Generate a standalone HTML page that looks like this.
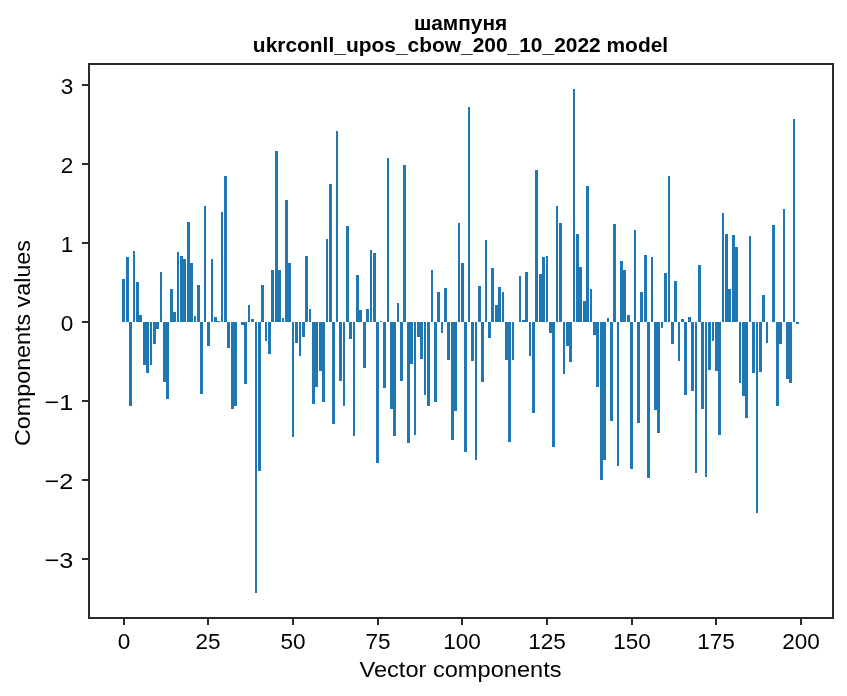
<!DOCTYPE html>
<html><head><meta charset="utf-8"><title>шампуня ukrconll_upos_cbow_200_10_2022 model</title>
<style>html,body{margin:0;padding:0;background:#fff;}svg{display:block;will-change:transform;}text{font-family:"Liberation Sans", sans-serif;fill:#000;}</style>
</head><body>
<svg width="847" height="696" viewBox="0 0 847 696">
<rect x="0" y="0" width="847" height="696" fill="#fff"/>
<g fill="#1f77b4" shape-rendering="crispEdges">
<rect x="122" y="279" width="3" height="43"/>
<rect x="126" y="257" width="3" height="65"/>
<rect x="129" y="322" width="3" height="84"/>
<rect x="133" y="251" width="2" height="71"/>
<rect x="136" y="282" width="3" height="40"/>
<rect x="139" y="315" width="3" height="7"/>
<rect x="143" y="322" width="3" height="43"/>
<rect x="146" y="322" width="3" height="51"/>
<rect x="150" y="322" width="2" height="43"/>
<rect x="153" y="322" width="3" height="22"/>
<rect x="156" y="322" width="3" height="7"/>
<rect x="160" y="272" width="2" height="50"/>
<rect x="163" y="322" width="3" height="60"/>
<rect x="166" y="322" width="3" height="77"/>
<rect x="170" y="289" width="3" height="33"/>
<rect x="173" y="312" width="3" height="10"/>
<rect x="177" y="252" width="2" height="70"/>
<rect x="180" y="256" width="3" height="66"/>
<rect x="183" y="259" width="3" height="63"/>
<rect x="187" y="222" width="3" height="100"/>
<rect x="190" y="263" width="3" height="59"/>
<rect x="194" y="316" width="2" height="6"/>
<rect x="197" y="285" width="3" height="37"/>
<rect x="200" y="322" width="3" height="72"/>
<rect x="204" y="206" width="2" height="116"/>
<rect x="207" y="322" width="3" height="24"/>
<rect x="211" y="259" width="2" height="63"/>
<rect x="214" y="317" width="3" height="5"/>
<rect x="217" y="321" width="3" height="1"/>
<rect x="221" y="212" width="2" height="110"/>
<rect x="224" y="176" width="3" height="146"/>
<rect x="227" y="322" width="3" height="26"/>
<rect x="231" y="322" width="3" height="87"/>
<rect x="234" y="322" width="3" height="84"/>
<rect x="241" y="322" width="3" height="3"/>
<rect x="244" y="322" width="3" height="62"/>
<rect x="248" y="305" width="2" height="17"/>
<rect x="251" y="319" width="3" height="3"/>
<rect x="255" y="322" width="2" height="271"/>
<rect x="258" y="322" width="3" height="149"/>
<rect x="261" y="285" width="3" height="37"/>
<rect x="265" y="322" width="2" height="19"/>
<rect x="268" y="322" width="3" height="32"/>
<rect x="271" y="270" width="3" height="52"/>
<rect x="275" y="151" width="3" height="171"/>
<rect x="278" y="270" width="3" height="52"/>
<rect x="282" y="318" width="2" height="4"/>
<rect x="285" y="200" width="3" height="122"/>
<rect x="288" y="263" width="3" height="59"/>
<rect x="292" y="322" width="2" height="115"/>
<rect x="295" y="322" width="3" height="21"/>
<rect x="299" y="322" width="2" height="34"/>
<rect x="302" y="322" width="3" height="15"/>
<rect x="305" y="256" width="3" height="66"/>
<rect x="309" y="309" width="2" height="13"/>
<rect x="312" y="322" width="3" height="82"/>
<rect x="315" y="322" width="3" height="65"/>
<rect x="319" y="322" width="3" height="49"/>
<rect x="322" y="322" width="3" height="80"/>
<rect x="326" y="239" width="2" height="83"/>
<rect x="329" y="184" width="3" height="138"/>
<rect x="332" y="322" width="3" height="102"/>
<rect x="336" y="131" width="2" height="191"/>
<rect x="339" y="322" width="3" height="59"/>
<rect x="343" y="322" width="2" height="84"/>
<rect x="346" y="226" width="3" height="96"/>
<rect x="349" y="322" width="3" height="17"/>
<rect x="353" y="322" width="2" height="114"/>
<rect x="356" y="275" width="3" height="47"/>
<rect x="359" y="310" width="3" height="12"/>
<rect x="363" y="322" width="3" height="46"/>
<rect x="366" y="309" width="3" height="13"/>
<rect x="370" y="250" width="2" height="72"/>
<rect x="373" y="253" width="3" height="69"/>
<rect x="376" y="322" width="3" height="141"/>
<rect x="380" y="321" width="2" height="1"/>
<rect x="383" y="322" width="3" height="66"/>
<rect x="387" y="158" width="2" height="164"/>
<rect x="390" y="322" width="3" height="87"/>
<rect x="393" y="322" width="3" height="114"/>
<rect x="397" y="303" width="2" height="19"/>
<rect x="400" y="322" width="3" height="59"/>
<rect x="403" y="165" width="3" height="157"/>
<rect x="407" y="322" width="3" height="121"/>
<rect x="410" y="322" width="3" height="42"/>
<rect x="414" y="322" width="2" height="113"/>
<rect x="417" y="322" width="3" height="15"/>
<rect x="420" y="322" width="3" height="37"/>
<rect x="424" y="322" width="2" height="73"/>
<rect x="427" y="322" width="3" height="84"/>
<rect x="431" y="270" width="2" height="52"/>
<rect x="434" y="322" width="3" height="80"/>
<rect x="437" y="292" width="3" height="30"/>
<rect x="441" y="322" width="2" height="11"/>
<rect x="444" y="288" width="3" height="34"/>
<rect x="447" y="322" width="3" height="38"/>
<rect x="451" y="322" width="3" height="118"/>
<rect x="454" y="322" width="3" height="89"/>
<rect x="458" y="223" width="2" height="99"/>
<rect x="461" y="263" width="3" height="59"/>
<rect x="464" y="322" width="3" height="130"/>
<rect x="468" y="107" width="2" height="215"/>
<rect x="471" y="322" width="3" height="39"/>
<rect x="475" y="322" width="2" height="138"/>
<rect x="478" y="286" width="3" height="36"/>
<rect x="481" y="322" width="3" height="60"/>
<rect x="485" y="240" width="2" height="82"/>
<rect x="488" y="322" width="3" height="16"/>
<rect x="491" y="268" width="3" height="54"/>
<rect x="495" y="305" width="3" height="17"/>
<rect x="498" y="287" width="3" height="35"/>
<rect x="502" y="292" width="2" height="30"/>
<rect x="505" y="322" width="3" height="38"/>
<rect x="508" y="322" width="3" height="120"/>
<rect x="512" y="322" width="2" height="38"/>
<rect x="519" y="276" width="2" height="46"/>
<rect x="522" y="320" width="3" height="2"/>
<rect x="525" y="272" width="3" height="50"/>
<rect x="529" y="322" width="2" height="34"/>
<rect x="532" y="322" width="3" height="91"/>
<rect x="535" y="170" width="3" height="152"/>
<rect x="539" y="274" width="3" height="48"/>
<rect x="542" y="257" width="3" height="65"/>
<rect x="546" y="256" width="2" height="66"/>
<rect x="549" y="322" width="3" height="11"/>
<rect x="552" y="322" width="3" height="125"/>
<rect x="556" y="206" width="2" height="116"/>
<rect x="559" y="223" width="3" height="99"/>
<rect x="563" y="322" width="2" height="52"/>
<rect x="566" y="322" width="3" height="24"/>
<rect x="569" y="322" width="3" height="40"/>
<rect x="573" y="89" width="2" height="233"/>
<rect x="576" y="234" width="3" height="88"/>
<rect x="579" y="267" width="3" height="55"/>
<rect x="583" y="301" width="3" height="21"/>
<rect x="586" y="186" width="3" height="136"/>
<rect x="590" y="289" width="2" height="33"/>
<rect x="593" y="322" width="3" height="13"/>
<rect x="596" y="322" width="3" height="65"/>
<rect x="600" y="322" width="3" height="158"/>
<rect x="603" y="322" width="3" height="138"/>
<rect x="607" y="318" width="2" height="4"/>
<rect x="610" y="322" width="3" height="99"/>
<rect x="613" y="224" width="3" height="98"/>
<rect x="617" y="322" width="2" height="144"/>
<rect x="620" y="261" width="3" height="61"/>
<rect x="623" y="270" width="3" height="52"/>
<rect x="627" y="315" width="3" height="7"/>
<rect x="630" y="322" width="3" height="147"/>
<rect x="634" y="230" width="2" height="92"/>
<rect x="637" y="322" width="3" height="101"/>
<rect x="640" y="292" width="3" height="30"/>
<rect x="644" y="255" width="3" height="67"/>
<rect x="647" y="322" width="3" height="156"/>
<rect x="651" y="257" width="2" height="65"/>
<rect x="654" y="322" width="3" height="88"/>
<rect x="657" y="322" width="3" height="111"/>
<rect x="661" y="322" width="2" height="6"/>
<rect x="664" y="273" width="3" height="49"/>
<rect x="668" y="176" width="2" height="146"/>
<rect x="671" y="322" width="3" height="22"/>
<rect x="674" y="281" width="3" height="41"/>
<rect x="678" y="322" width="2" height="39"/>
<rect x="681" y="319" width="3" height="3"/>
<rect x="684" y="322" width="3" height="73"/>
<rect x="688" y="317" width="3" height="5"/>
<rect x="691" y="322" width="3" height="69"/>
<rect x="695" y="322" width="2" height="151"/>
<rect x="698" y="265" width="3" height="57"/>
<rect x="701" y="322" width="3" height="87"/>
<rect x="705" y="322" width="2" height="155"/>
<rect x="708" y="322" width="3" height="48"/>
<rect x="712" y="322" width="2" height="19"/>
<rect x="715" y="322" width="3" height="49"/>
<rect x="718" y="322" width="3" height="113"/>
<rect x="722" y="213" width="2" height="109"/>
<rect x="725" y="234" width="3" height="88"/>
<rect x="728" y="289" width="3" height="33"/>
<rect x="732" y="235" width="3" height="87"/>
<rect x="735" y="247" width="3" height="75"/>
<rect x="739" y="322" width="2" height="61"/>
<rect x="742" y="322" width="3" height="74"/>
<rect x="745" y="322" width="3" height="96"/>
<rect x="749" y="236" width="2" height="86"/>
<rect x="752" y="322" width="3" height="51"/>
<rect x="756" y="322" width="2" height="191"/>
<rect x="759" y="322" width="3" height="50"/>
<rect x="762" y="295" width="3" height="27"/>
<rect x="766" y="322" width="2" height="21"/>
<rect x="772" y="225" width="3" height="97"/>
<rect x="776" y="322" width="3" height="84"/>
<rect x="779" y="322" width="3" height="22"/>
<rect x="783" y="209" width="2" height="113"/>
<rect x="786" y="322" width="3" height="57"/>
<rect x="789" y="322" width="3" height="61"/>
<rect x="793" y="119" width="2" height="203"/>
<rect x="796" y="322" width="3" height="2"/>
</g>
<g fill="#2a2a2a" shape-rendering="crispEdges">
<rect x="88" y="63" width="2" height="556"/>
<rect x="832" y="63" width="2" height="556"/>
<rect x="90" y="63" width="742" height="2"/>
<rect x="90" y="617" width="742" height="2"/>
<rect x="123" y="619" width="2" height="6"/>
<rect x="207" y="619" width="2" height="6"/>
<rect x="292" y="619" width="2" height="6"/>
<rect x="377" y="619" width="2" height="6"/>
<rect x="461" y="619" width="2" height="6"/>
<rect x="546" y="619" width="2" height="6"/>
<rect x="631" y="619" width="2" height="6"/>
<rect x="715" y="619" width="2" height="6"/>
<rect x="800" y="619" width="2" height="6"/>
<rect x="82" y="558" width="6" height="2"/>
<rect x="82" y="479" width="6" height="2"/>
<rect x="82" y="400" width="6" height="2"/>
<rect x="82" y="321" width="6" height="2"/>
<rect x="82" y="242" width="6" height="2"/>
<rect x="82" y="163" width="6" height="2"/>
<rect x="82" y="84" width="6" height="2"/>
</g>
<g>
<text x="124" y="649" font-size="22.6" text-anchor="middle" font-weight="normal" textLength="12.55" lengthAdjust="spacingAndGlyphs">0</text>
<text x="208" y="649" font-size="22.6" text-anchor="middle" font-weight="normal" textLength="25.1" lengthAdjust="spacingAndGlyphs">25</text>
<text x="293" y="649" font-size="22.6" text-anchor="middle" font-weight="normal" textLength="25.1" lengthAdjust="spacingAndGlyphs">50</text>
<text x="378" y="649" font-size="22.6" text-anchor="middle" font-weight="normal" textLength="25.1" lengthAdjust="spacingAndGlyphs">75</text>
<text x="462" y="649" font-size="22.6" text-anchor="middle" font-weight="normal" textLength="37.65" lengthAdjust="spacingAndGlyphs">100</text>
<text x="547" y="649" font-size="22.6" text-anchor="middle" font-weight="normal" textLength="37.65" lengthAdjust="spacingAndGlyphs">125</text>
<text x="632" y="649" font-size="22.6" text-anchor="middle" font-weight="normal" textLength="37.65" lengthAdjust="spacingAndGlyphs">150</text>
<text x="716" y="649" font-size="22.6" text-anchor="middle" font-weight="normal" textLength="37.65" lengthAdjust="spacingAndGlyphs">175</text>
<text x="801" y="649" font-size="22.6" text-anchor="middle" font-weight="normal" textLength="37.65" lengthAdjust="spacingAndGlyphs">200</text>
<text x="73.3" y="567.7" font-size="22.6" text-anchor="end" font-weight="normal" textLength="28.75" lengthAdjust="spacingAndGlyphs">−3</text>
<text x="73.3" y="488.7" font-size="22.6" text-anchor="end" font-weight="normal" textLength="28.75" lengthAdjust="spacingAndGlyphs">−2</text>
<text x="73.3" y="409.7" font-size="22.6" text-anchor="end" font-weight="normal" textLength="28.75" lengthAdjust="spacingAndGlyphs">−1</text>
<text x="73.3" y="330.7" font-size="22.6" text-anchor="end" font-weight="normal" textLength="12.55" lengthAdjust="spacingAndGlyphs">0</text>
<text x="73.3" y="251.7" font-size="22.6" text-anchor="end" font-weight="normal" textLength="12.55" lengthAdjust="spacingAndGlyphs">1</text>
<text x="73.3" y="172.7" font-size="22.6" text-anchor="end" font-weight="normal" textLength="12.55" lengthAdjust="spacingAndGlyphs">2</text>
<text x="73.3" y="93.7" font-size="22.6" text-anchor="end" font-weight="normal" textLength="12.55" lengthAdjust="spacingAndGlyphs">3</text>
<text x="460.5" y="677.3" font-size="22.6" text-anchor="middle" font-weight="normal" textLength="202" lengthAdjust="spacingAndGlyphs">Vector components</text>
<text transform="translate(30,343) rotate(-90)" font-size="22.6" text-anchor="middle" textLength="206" lengthAdjust="spacingAndGlyphs">Components values</text>
<text x="460.5" y="30" font-size="20.83" text-anchor="middle" font-weight="bold">шампуня</text>
<text x="460.5" y="52" font-size="20.83" text-anchor="middle" font-weight="bold" textLength="415.3" lengthAdjust="spacingAndGlyphs">ukrconll_upos_cbow_200_10_2022 model</text>
</g>
</svg>
</body></html>
